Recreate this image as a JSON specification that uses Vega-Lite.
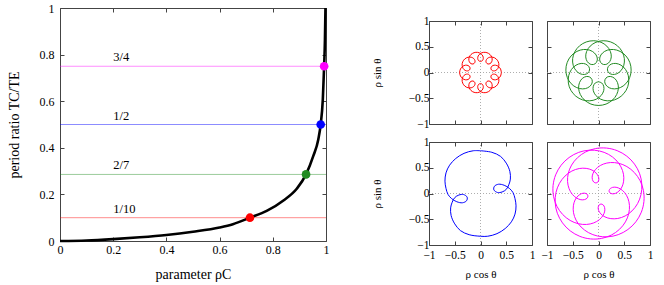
{
  "$schema": "https://vega.github.io/schema/vega-lite/v6.json",
  "padding": {"left": 6, "top": 1, "right": 4, "bottom": 0},
  "config": {
    "font": "Liberation Serif",
    "view": {"stroke": "#444", "strokeWidth": 1},
    "axis": {"domain": false, "grid": false, "tickSize": -4, "tickColor": "#444", "labelFont": "Liberation Serif", "labelFontSize": 12, "labelColor": "#000", "labelFlush": false, "labelOverlap": false, "titleFont": "Liberation Serif", "titleFontSize": 14, "titleFontWeight": "normal", "titleColor": "#000"}
  },
  "datasets": {
    "curve": [
      {"rho": 0, "ratio": 0}, {"rho": 0.1, "ratio": 0.002}, {"rho": 0.2, "ratio": 0.008}, {"rho": 0.3, "ratio": 0.016},
      {"rho": 0.4, "ratio": 0.026}, {"rho": 0.5, "ratio": 0.04}, {"rho": 0.6, "ratio": 0.058}, {"rho": 0.65, "ratio": 0.072},
      {"rho": 0.714, "ratio": 0.1}, {"rho": 0.777, "ratio": 0.129}, {"rho": 0.84, "ratio": 0.174}, {"rho": 0.89, "ratio": 0.224},
      {"rho": 0.925, "ratio": 0.2857}, {"rho": 0.952, "ratio": 0.364}, {"rho": 0.971, "ratio": 0.436}, {"rho": 0.98, "ratio": 0.5},
      {"rho": 0.988, "ratio": 0.607}, {"rho": 0.993, "ratio": 0.75}, {"rho": 0.996, "ratio": 0.864}, {"rho": 0.998, "ratio": 1.0}
    ],
    "res": [
      {"label": "1/10", "ratio": 0.1, "rho": 0.714},
      {"label": "2/7", "ratio": 0.2857, "rho": 0.925},
      {"label": "1/2", "ratio": 0.5, "rho": 0.98},
      {"label": "3/4", "ratio": 0.75, "rho": 0.993}
    ],
    "red": [{"k":0,"x":0.405,"y":0},{"k":1,"x":0.389,"y":0.068},{"k":2,"x":0.347,"y":0.119},{"k":3,"x":0.291,"y":0.142},{"k":4,"x":0.24,"y":0.135},{"k":5,"x":0.208,"y":0.105},{"k":6,"x":0.204,"y":0.066},{"k":7,"x":0.23,"y":0.037},{"k":8,"x":0.273,"y":0.032},{"k":9,"x":0.319,"y":0.056},{"k":10,"x":0.351,"y":0.108},{"k":11,"x":0.355,"y":0.174},{"k":12,"x":0.328,"y":0.238},{"k":13,"x":0.275,"y":0.284},{"k":14,"x":0.211,"y":0.3},{"k":15,"x":0.152,"y":0.286},{"k":16,"x":0.115,"y":0.25},{"k":17,"x":0.106,"y":0.207},{"k":18,"x":0.126,"y":0.174},{"k":19,"x":0.164,"y":0.165},{"k":20,"x":0.203,"y":0.186},{"k":21,"x":0.225,"y":0.233},{"k":22,"x":0.221,"y":0.293},{"k":23,"x":0.185,"y":0.349},{"k":24,"x":0.125,"y":0.385},{"k":25,"x":0.056,"y":0.391},{"k":26,"x":-0.006,"y":0.367},{"k":27,"x":-0.045,"y":0.321},{"k":28,"x":-0.054,"y":0.27},{"k":29,"x":-0.036,"y":0.23},{"k":30,"x":0,"y":0.215},{"k":31,"x":0.036,"y":0.23},{"k":32,"x":0.054,"y":0.27},{"k":33,"x":0.045,"y":0.321},{"k":34,"x":0.006,"y":0.367},{"k":35,"x":-0.056,"y":0.391},{"k":36,"x":-0.125,"y":0.385},{"k":37,"x":-0.185,"y":0.349},{"k":38,"x":-0.221,"y":0.293},{"k":39,"x":-0.225,"y":0.233},{"k":40,"x":-0.203,"y":0.186},{"k":41,"x":-0.164,"y":0.165},{"k":42,"x":-0.126,"y":0.174},{"k":43,"x":-0.106,"y":0.207},{"k":44,"x":-0.115,"y":0.25},{"k":45,"x":-0.152,"y":0.286},{"k":46,"x":-0.211,"y":0.3},{"k":47,"x":-0.275,"y":0.284},{"k":48,"x":-0.328,"y":0.238},{"k":49,"x":-0.355,"y":0.174},{"k":50,"x":-0.351,"y":0.108},{"k":51,"x":-0.319,"y":0.056},{"k":52,"x":-0.273,"y":0.032},{"k":53,"x":-0.23,"y":0.037},{"k":54,"x":-0.204,"y":0.066},{"k":55,"x":-0.208,"y":0.105},{"k":56,"x":-0.24,"y":0.135},{"k":57,"x":-0.291,"y":0.142},{"k":58,"x":-0.347,"y":0.119},{"k":59,"x":-0.389,"y":0.068},{"k":60,"x":-0.405,"y":0},{"k":61,"x":-0.389,"y":-0.068},{"k":62,"x":-0.347,"y":-0.119},{"k":63,"x":-0.291,"y":-0.142},{"k":64,"x":-0.24,"y":-0.135},{"k":65,"x":-0.208,"y":-0.105},{"k":66,"x":-0.204,"y":-0.066},{"k":67,"x":-0.23,"y":-0.037},{"k":68,"x":-0.273,"y":-0.032},{"k":69,"x":-0.319,"y":-0.056},{"k":70,"x":-0.351,"y":-0.108},{"k":71,"x":-0.355,"y":-0.174},{"k":72,"x":-0.328,"y":-0.238},{"k":73,"x":-0.275,"y":-0.284},{"k":74,"x":-0.211,"y":-0.3},{"k":75,"x":-0.152,"y":-0.286},{"k":76,"x":-0.115,"y":-0.25},{"k":77,"x":-0.106,"y":-0.207},{"k":78,"x":-0.126,"y":-0.174},{"k":79,"x":-0.164,"y":-0.165},{"k":80,"x":-0.203,"y":-0.186},{"k":81,"x":-0.225,"y":-0.233},{"k":82,"x":-0.221,"y":-0.293},{"k":83,"x":-0.185,"y":-0.349},{"k":84,"x":-0.125,"y":-0.385},{"k":85,"x":-0.056,"y":-0.391},{"k":86,"x":0.006,"y":-0.367},{"k":87,"x":0.045,"y":-0.321},{"k":88,"x":0.054,"y":-0.27},{"k":89,"x":0.036,"y":-0.23},{"k":90,"x":0,"y":-0.215},{"k":91,"x":-0.036,"y":-0.23},{"k":92,"x":-0.054,"y":-0.27},{"k":93,"x":-0.045,"y":-0.321},{"k":94,"x":-0.006,"y":-0.367},{"k":95,"x":0.056,"y":-0.391},{"k":96,"x":0.125,"y":-0.385},{"k":97,"x":0.185,"y":-0.349},{"k":98,"x":0.221,"y":-0.293},{"k":99,"x":0.225,"y":-0.233},{"k":100,"x":0.203,"y":-0.186},{"k":101,"x":0.164,"y":-0.165},{"k":102,"x":0.126,"y":-0.174},{"k":103,"x":0.106,"y":-0.207},{"k":104,"x":0.115,"y":-0.25},{"k":105,"x":0.152,"y":-0.286},{"k":106,"x":0.211,"y":-0.3},{"k":107,"x":0.275,"y":-0.284},{"k":108,"x":0.328,"y":-0.238},{"k":109,"x":0.355,"y":-0.174},{"k":110,"x":0.351,"y":-0.108},{"k":111,"x":0.319,"y":-0.056},{"k":112,"x":0.273,"y":-0.032},{"k":113,"x":0.23,"y":-0.037},{"k":114,"x":0.204,"y":-0.066},{"k":115,"x":0.208,"y":-0.105},{"k":116,"x":0.24,"y":-0.135},{"k":117,"x":0.291,"y":-0.142},{"k":118,"x":0.347,"y":-0.119},{"k":119,"x":0.389,"y":-0.068},{"k":120,"x":0.405,"y":0}],
    "green": [{"k":0,"x":0,"y":-0.18},{"k":1,"x":-0.062,"y":-0.203},{"k":2,"x":-0.101,"y":-0.266},{"k":3,"x":-0.101,"y":-0.354},{"k":4,"x":-0.052,"y":-0.446},{"k":5,"x":0.042,"y":-0.518},{"k":6,"x":0.17,"y":-0.55},{"k":7,"x":0.31,"y":-0.532},{"k":8,"x":0.44,"y":-0.46},{"k":9,"x":0.537,"y":-0.345},{"k":10,"x":0.585,"y":-0.205},{"k":11,"x":0.579,"y":-0.062},{"k":12,"x":0.525,"y":0.059},{"k":13,"x":0.437,"y":0.142},{"k":14,"x":0.337,"y":0.176},{"k":15,"x":0.247,"y":0.163},{"k":16,"x":0.189,"y":0.114},{"k":17,"x":0.174,"y":0.049},{"k":18,"x":0.204,"y":-0.009},{"k":19,"x":0.27,"y":-0.038},{"k":20,"x":0.355,"y":-0.025},{"k":21,"x":0.436,"y":0.036},{"k":22,"x":0.491,"y":0.139},{"k":23,"x":0.502,"y":0.269},{"k":24,"x":0.46,"y":0.403},{"k":25,"x":0.368,"y":0.518},{"k":26,"x":0.238,"y":0.593},{"k":27,"x":0.091,"y":0.617},{"k":28,"x":-0.05,"y":0.587},{"k":29,"x":-0.162,"y":0.512},{"k":30,"x":-0.23,"y":0.41},{"k":31,"x":-0.248,"y":0.303},{"k":32,"x":-0.22,"y":0.215},{"k":33,"x":-0.163,"y":0.163},{"k":34,"x":-0.096,"y":0.156},{"k":35,"x":-0.042,"y":0.193},{"k":36,"x":-0.022,"y":0.261},{"k":37,"x":-0.047,"y":0.341},{"k":38,"x":-0.119,"y":0.41},{"k":39,"x":-0.227,"y":0.446},{"k":40,"x":-0.355,"y":0.435},{"k":41,"x":-0.479,"y":0.372},{"k":42,"x":-0.576,"y":0.262},{"k":43,"x":-0.628,"y":0.121},{"k":44,"x":-0.626,"y":-0.028},{"k":45,"x":-0.573,"y":-0.163},{"k":46,"x":-0.479,"y":-0.262},{"k":47,"x":-0.365,"y":-0.312},{"k":48,"x":-0.255,"y":-0.313},{"k":49,"x":-0.17,"y":-0.271},{"k":50,"x":-0.125,"y":-0.205},{"k":51,"x":-0.127,"y":-0.137},{"k":52,"x":-0.17,"y":-0.088},{"k":53,"x":-0.238,"y":-0.078},{"k":54,"x":-0.312,"y":-0.113},{"k":55,"x":-0.368,"y":-0.193},{"k":56,"x":-0.386,"y":-0.303},{"k":57,"x":-0.354,"y":-0.426},{"k":58,"x":-0.271,"y":-0.536},{"k":59,"x":-0.147,"y":-0.613},{"k":60,"x":0,"y":-0.64},{"k":61,"x":0.147,"y":-0.613},{"k":62,"x":0.271,"y":-0.536},{"k":63,"x":0.354,"y":-0.426},{"k":64,"x":0.386,"y":-0.303},{"k":65,"x":0.368,"y":-0.193},{"k":66,"x":0.312,"y":-0.113},{"k":67,"x":0.238,"y":-0.078},{"k":68,"x":0.17,"y":-0.088},{"k":69,"x":0.127,"y":-0.137},{"k":70,"x":0.125,"y":-0.205},{"k":71,"x":0.17,"y":-0.271},{"k":72,"x":0.255,"y":-0.313},{"k":73,"x":0.365,"y":-0.312},{"k":74,"x":0.479,"y":-0.262},{"k":75,"x":0.573,"y":-0.163},{"k":76,"x":0.626,"y":-0.028},{"k":77,"x":0.628,"y":0.121},{"k":78,"x":0.576,"y":0.262},{"k":79,"x":0.479,"y":0.372},{"k":80,"x":0.355,"y":0.435},{"k":81,"x":0.227,"y":0.446},{"k":82,"x":0.119,"y":0.41},{"k":83,"x":0.047,"y":0.341},{"k":84,"x":0.022,"y":0.261},{"k":85,"x":0.042,"y":0.193},{"k":86,"x":0.096,"y":0.156},{"k":87,"x":0.163,"y":0.163},{"k":88,"x":0.22,"y":0.215},{"k":89,"x":0.248,"y":0.303},{"k":90,"x":0.23,"y":0.41},{"k":91,"x":0.162,"y":0.512},{"k":92,"x":0.05,"y":0.587},{"k":93,"x":-0.091,"y":0.617},{"k":94,"x":-0.238,"y":0.593},{"k":95,"x":-0.368,"y":0.518},{"k":96,"x":-0.46,"y":0.403},{"k":97,"x":-0.502,"y":0.269},{"k":98,"x":-0.491,"y":0.139},{"k":99,"x":-0.436,"y":0.036},{"k":100,"x":-0.355,"y":-0.025},{"k":101,"x":-0.27,"y":-0.038},{"k":102,"x":-0.204,"y":-0.009},{"k":103,"x":-0.174,"y":0.049},{"k":104,"x":-0.189,"y":0.114},{"k":105,"x":-0.247,"y":0.163},{"k":106,"x":-0.337,"y":0.176},{"k":107,"x":-0.437,"y":0.142},{"k":108,"x":-0.525,"y":0.059},{"k":109,"x":-0.579,"y":-0.062},{"k":110,"x":-0.585,"y":-0.205},{"k":111,"x":-0.537,"y":-0.345},{"k":112,"x":-0.44,"y":-0.46},{"k":113,"x":-0.31,"y":-0.532},{"k":114,"x":-0.17,"y":-0.55},{"k":115,"x":-0.042,"y":-0.518},{"k":116,"x":0.052,"y":-0.446},{"k":117,"x":0.101,"y":-0.354},{"k":118,"x":0.101,"y":-0.266},{"k":119,"x":0.062,"y":-0.203},{"k":120,"x":0,"y":-0.18}],
    "blue": [{"k":0,"x":0,"y":0.83},{"k":1,"x":0.22,"y":0.8},{"k":2,"x":0.39,"y":0.72},{"k":3,"x":0.5,"y":0.59},{"k":4,"x":0.57,"y":0.43},{"k":5,"x":0.58,"y":0.28},{"k":6,"x":0.55,"y":0.17},{"k":7,"x":0.5,"y":0.08},{"k":8,"x":0.42,"y":0.03},{"k":9,"x":0.33,"y":0.02},{"k":10,"x":0.26,"y":0.07},{"k":11,"x":0.27,"y":0.14},{"k":12,"x":0.35,"y":0.18},{"k":13,"x":0.46,"y":0.16},{"k":14,"x":0.56,"y":0.1},{"k":15,"x":0.63,"y":0.02},{"k":16,"x":0.67,"y":-0.1},{"k":17,"x":0.69,"y":-0.24},{"k":18,"x":0.67,"y":-0.4},{"k":19,"x":0.6,"y":-0.55},{"k":20,"x":0.48,"y":-0.68},{"k":21,"x":0.32,"y":-0.78},{"k":22,"x":0.14,"y":-0.83},{"k":23,"x":0,"y":-0.83},{"k":24,"x":-0.22,"y":-0.8},{"k":25,"x":-0.39,"y":-0.72},{"k":26,"x":-0.5,"y":-0.59},{"k":27,"x":-0.57,"y":-0.43},{"k":28,"x":-0.58,"y":-0.28},{"k":29,"x":-0.55,"y":-0.17},{"k":30,"x":-0.5,"y":-0.08},{"k":31,"x":-0.42,"y":-0.03},{"k":32,"x":-0.33,"y":-0.02},{"k":33,"x":-0.26,"y":-0.07},{"k":34,"x":-0.27,"y":-0.14},{"k":35,"x":-0.35,"y":-0.18},{"k":36,"x":-0.46,"y":-0.16},{"k":37,"x":-0.56,"y":-0.1},{"k":38,"x":-0.63,"y":-0.02},{"k":39,"x":-0.67,"y":0.1},{"k":40,"x":-0.69,"y":0.24},{"k":41,"x":-0.67,"y":0.4},{"k":42,"x":-0.6,"y":0.55},{"k":43,"x":-0.48,"y":0.68},{"k":44,"x":-0.32,"y":0.78},{"k":45,"x":-0.14,"y":0.83},{"k":46,"x":0,"y":0.83}],
    "magenta": [{"k":0,"x":0.222,"y":0.091},{"k":1,"x":0.205,"y":0.051},{"k":2,"x":0.221,"y":0.014},{"k":3,"x":0.265,"y":-0.006},{"k":4,"x":0.328,"y":0.002},{"k":5,"x":0.396,"y":0.046},{"k":6,"x":0.455,"y":0.126},{"k":7,"x":0.488,"y":0.239},{"k":8,"x":0.485,"y":0.374},{"k":9,"x":0.436,"y":0.517},{"k":10,"x":0.338,"y":0.651},{"k":11,"x":0.196,"y":0.759},{"k":12,"x":0.018,"y":0.826},{"k":13,"x":-0.181,"y":0.841},{"k":14,"x":-0.384,"y":0.799},{"k":15,"x":-0.571,"y":0.699},{"k":16,"x":-0.725,"y":0.55},{"k":17,"x":-0.832,"y":0.362},{"k":18,"x":-0.882,"y":0.155},{"k":19,"x":-0.873,"y":-0.055},{"k":20,"x":-0.808,"y":-0.248},{"k":21,"x":-0.696,"y":-0.407},{"k":22,"x":-0.551,"y":-0.523},{"k":23,"x":-0.391,"y":-0.587},{"k":24,"x":-0.233,"y":-0.601},{"k":25,"x":-0.093,"y":-0.571},{"k":26,"x":0.017,"y":-0.508},{"k":27,"x":0.088,"y":-0.426},{"k":28,"x":0.121,"y":-0.342},{"k":29,"x":0.118,"y":-0.27},{"k":30,"x":0.091,"y":-0.222},{"k":31,"x":0.051,"y":-0.205},{"k":32,"x":0.014,"y":-0.221},{"k":33,"x":-0.006,"y":-0.265},{"k":34,"x":0.002,"y":-0.328},{"k":35,"x":0.046,"y":-0.396},{"k":36,"x":0.126,"y":-0.455},{"k":37,"x":0.239,"y":-0.488},{"k":38,"x":0.374,"y":-0.485},{"k":39,"x":0.517,"y":-0.436},{"k":40,"x":0.651,"y":-0.338},{"k":41,"x":0.759,"y":-0.196},{"k":42,"x":0.826,"y":-0.018},{"k":43,"x":0.841,"y":0.181},{"k":44,"x":0.799,"y":0.384},{"k":45,"x":0.699,"y":0.571},{"k":46,"x":0.55,"y":0.725},{"k":47,"x":0.362,"y":0.832},{"k":48,"x":0.155,"y":0.882},{"k":49,"x":-0.055,"y":0.873},{"k":50,"x":-0.248,"y":0.808},{"k":51,"x":-0.407,"y":0.696},{"k":52,"x":-0.523,"y":0.551},{"k":53,"x":-0.587,"y":0.391},{"k":54,"x":-0.601,"y":0.233},{"k":55,"x":-0.571,"y":0.093},{"k":56,"x":-0.508,"y":-0.017},{"k":57,"x":-0.426,"y":-0.088},{"k":58,"x":-0.342,"y":-0.121},{"k":59,"x":-0.27,"y":-0.118},{"k":60,"x":-0.222,"y":-0.091},{"k":61,"x":-0.205,"y":-0.051},{"k":62,"x":-0.221,"y":-0.014},{"k":63,"x":-0.265,"y":0.006},{"k":64,"x":-0.328,"y":-0.002},{"k":65,"x":-0.396,"y":-0.046},{"k":66,"x":-0.455,"y":-0.126},{"k":67,"x":-0.488,"y":-0.239},{"k":68,"x":-0.485,"y":-0.374},{"k":69,"x":-0.436,"y":-0.517},{"k":70,"x":-0.338,"y":-0.651},{"k":71,"x":-0.196,"y":-0.759},{"k":72,"x":-0.018,"y":-0.826},{"k":73,"x":0.181,"y":-0.841},{"k":74,"x":0.384,"y":-0.799},{"k":75,"x":0.571,"y":-0.699},{"k":76,"x":0.725,"y":-0.55},{"k":77,"x":0.832,"y":-0.362},{"k":78,"x":0.882,"y":-0.155},{"k":79,"x":0.873,"y":0.055},{"k":80,"x":0.808,"y":0.248},{"k":81,"x":0.696,"y":0.407},{"k":82,"x":0.551,"y":0.523},{"k":83,"x":0.391,"y":0.587},{"k":84,"x":0.233,"y":0.601},{"k":85,"x":0.093,"y":0.571},{"k":86,"x":-0.017,"y":0.508},{"k":87,"x":-0.088,"y":0.426},{"k":88,"x":-0.121,"y":0.342},{"k":89,"x":-0.118,"y":0.27},{"k":90,"x":-0.091,"y":0.222},{"k":91,"x":-0.051,"y":0.205},{"k":92,"x":-0.014,"y":0.221},{"k":93,"x":0.006,"y":0.265},{"k":94,"x":-0.002,"y":0.328},{"k":95,"x":-0.046,"y":0.396},{"k":96,"x":-0.126,"y":0.455},{"k":97,"x":-0.239,"y":0.488},{"k":98,"x":-0.374,"y":0.485},{"k":99,"x":-0.517,"y":0.436},{"k":100,"x":-0.651,"y":0.338},{"k":101,"x":-0.759,"y":0.196},{"k":102,"x":-0.826,"y":0.018},{"k":103,"x":-0.841,"y":-0.181},{"k":104,"x":-0.799,"y":-0.384},{"k":105,"x":-0.699,"y":-0.571},{"k":106,"x":-0.55,"y":-0.725},{"k":107,"x":-0.362,"y":-0.832},{"k":108,"x":-0.155,"y":-0.882},{"k":109,"x":0.055,"y":-0.873},{"k":110,"x":0.248,"y":-0.808},{"k":111,"x":0.407,"y":-0.696},{"k":112,"x":0.523,"y":-0.551},{"k":113,"x":0.587,"y":-0.391},{"k":114,"x":0.601,"y":-0.233},{"k":115,"x":0.571,"y":-0.093},{"k":116,"x":0.508,"y":0.017},{"k":117,"x":0.426,"y":0.088},{"k":118,"x":0.342,"y":0.121},{"k":119,"x":0.27,"y":0.118},{"k":120,"x":0.222,"y":0.091}]
  },
  "hconcat": [
    {
      "width": 266, "height": 233,
      "layer": [
        {"data": {"name": "res"}, "mark": {"type": "rule", "strokeWidth": 1, "opacity": 0.45},
         "encoding": {"y": {"field": "ratio", "type": "quantitative", "scale": {"domain": [0, 1], "nice": false}, "axis": null},
                      "color": {"field": "label", "type": "nominal", "scale": {"domain": ["1/10", "2/7", "1/2", "3/4"], "range": ["#ff0000", "#228b22", "#0000ff", "#ff00ff"]}, "legend": null}}},
        {"data": {"name": "res"}, "mark": {"type": "text", "align": "left", "baseline": "bottom", "dy": -2, "fontSize": 12.5, "color": "#000"},
         "encoding": {"x": {"datum": 0.2, "type": "quantitative", "scale": {"domain": [0, 1], "nice": false}, "axis": null},
                      "y": {"field": "ratio", "type": "quantitative", "axis": null},
                      "text": {"field": "label"}}},
        {"data": {"name": "curve"}, "mark": {"type": "line", "color": "#000", "strokeWidth": 2.6, "interpolate": "monotone"},
         "encoding": {"x": {"field": "rho", "type": "quantitative", "axis": {"orient": "bottom", "values": [0, 0.2, 0.4, 0.6, 0.8, 1], "format": "~g", "title": "parameter ρC", "labelPadding": 7, "titlePadding": 12}},
                      "y": {"field": "ratio", "type": "quantitative", "axis": {"orient": "left", "values": [0, 0.2, 0.4, 0.6, 0.8, 1], "format": "~g", "title": "period ratio TC/TE", "labelPadding": 10, "titlePadding": 18}}}},
        {"data": {"name": "res"}, "mark": {"type": "point", "filled": true, "size": 75, "opacity": 1},
         "encoding": {"x": {"field": "rho", "type": "quantitative", "axis": {"orient": "top", "values": [0, 0.2, 0.4, 0.6, 0.8, 1], "labels": false, "title": null}},
                      "y": {"field": "ratio", "type": "quantitative", "axis": {"orient": "right", "values": [0, 0.2, 0.4, 0.6, 0.8, 1], "labels": false, "title": null}},
                      "color": {"field": "label", "type": "nominal", "legend": null}}}
      ],
      "resolve": {"axis": {"x": "independent", "y": "independent"}}
    },
    {
      "spacing": 4,
      "vconcat": [
        {"width": 103, "height": 1, "data": {"values": []}, "mark": "point", "view": {"stroke": "transparent"}},
        {
          "columns": 2,
          "spacing": {"row": 5, "column": 4},
          "concat": [
            {
              "width": 103, "height": 103,
              "layer": [
                {"data": {"values": [{}]}, "mark": {"type": "rule", "strokeDash": [1, 2], "color": "#999", "strokeWidth": 0.8},
                 "encoding": {"x": {"datum": 0, "type": "quantitative", "scale": {"domain": [-1, 1], "nice": false}, "axis": {"orient": "top", "values": [-1, -0.5, 0, 0.5, 1], "labels": false, "title": null}}}},
                {"data": {"values": [{}]}, "mark": {"type": "rule", "strokeDash": [1, 2], "color": "#999", "strokeWidth": 0.8},
                 "encoding": {"y": {"datum": 0, "type": "quantitative", "scale": {"domain": [-1, 1], "nice": false}, "axis": {"orient": "right", "values": [-1, -0.5, 0, 0.5, 1], "labels": false, "title": null}}}},
                {"data": {"name": "red"}, "mark": {"type": "line", "color": "#ff0000", "strokeWidth": 1, "interpolate": "catmull-rom"},
                 "encoding": {"x": {"field": "x", "type": "quantitative", "axis": {"orient": "bottom", "values": [-1, -0.5, 0, 0.5, 1], "labels": false, "title": null}},
                              "y": {"field": "y", "type": "quantitative", "axis": {"orient": "left", "values": [-1, -0.5, 0, 0.5, 1], "format": "~g", "labelFontSize": 11.5, "title": "ρ sin θ", "titleFontSize": 11, "labelPadding": 4, "titlePadding": 26}},
                              "order": {"field": "k", "type": "quantitative"}}}
              ],
              "resolve": {"axis": {"x": "independent", "y": "independent"}}
            },
            {
              "width": 103, "height": 103,
              "layer": [
                {"data": {"values": [{}]}, "mark": {"type": "rule", "strokeDash": [1, 2], "color": "#999", "strokeWidth": 0.8},
                 "encoding": {"x": {"datum": 0, "type": "quantitative", "scale": {"domain": [-1, 1], "nice": false}, "axis": {"orient": "top", "values": [-1, -0.5, 0, 0.5, 1], "labels": false, "title": null}}}},
                {"data": {"values": [{}]}, "mark": {"type": "rule", "strokeDash": [1, 2], "color": "#999", "strokeWidth": 0.8},
                 "encoding": {"y": {"datum": 0, "type": "quantitative", "scale": {"domain": [-1, 1], "nice": false}, "axis": {"orient": "right", "values": [-1, -0.5, 0, 0.5, 1], "labels": false, "title": null}}}},
                {"data": {"name": "green"}, "mark": {"type": "line", "color": "#228b22", "strokeWidth": 1, "interpolate": "catmull-rom"},
                 "encoding": {"x": {"field": "x", "type": "quantitative", "axis": {"orient": "bottom", "values": [-1, -0.5, 0, 0.5, 1], "labels": false, "title": null}},
                              "y": {"field": "y", "type": "quantitative", "axis": {"orient": "left", "values": [-1, -0.5, 0, 0.5, 1], "labels": false, "title": null}},
                              "order": {"field": "k", "type": "quantitative"}}}
              ],
              "resolve": {"axis": {"x": "independent", "y": "independent"}}
            },
            {
              "width": 103, "height": 103,
              "layer": [
                {"data": {"values": [{}]}, "mark": {"type": "rule", "strokeDash": [1, 2], "color": "#999", "strokeWidth": 0.8},
                 "encoding": {"x": {"datum": 0, "type": "quantitative", "scale": {"domain": [-1, 1], "nice": false}, "axis": {"orient": "top", "values": [-1, -0.5, 0, 0.5, 1], "labels": false, "title": null}}}},
                {"data": {"values": [{}]}, "mark": {"type": "rule", "strokeDash": [1, 2], "color": "#999", "strokeWidth": 0.8},
                 "encoding": {"y": {"datum": 0, "type": "quantitative", "scale": {"domain": [-1, 1], "nice": false}, "axis": {"orient": "right", "values": [-1, -0.5, 0, 0.5, 1], "labels": false, "title": null}}}},
                {"data": {"name": "blue"}, "mark": {"type": "line", "color": "#0000ff", "strokeWidth": 1, "interpolate": "catmull-rom"},
                 "encoding": {"x": {"field": "x", "type": "quantitative", "axis": {"orient": "bottom", "values": [-1, -0.5, 0, 0.5, 1], "format": "~g", "labelFontSize": 11.5, "title": "ρ cos θ", "titleFontSize": 11, "labelPadding": 8, "titlePadding": 8}},
                              "y": {"field": "y", "type": "quantitative", "axis": {"orient": "left", "values": [-1, -0.5, 0, 0.5, 1], "format": "~g", "labelFontSize": 11.5, "title": "ρ sin θ", "titleFontSize": 11, "labelPadding": 4, "titlePadding": 26}},
                              "order": {"field": "k", "type": "quantitative"}}}
              ],
              "resolve": {"axis": {"x": "independent", "y": "independent"}}
            },
            {
              "width": 103, "height": 103,
              "layer": [
                {"data": {"values": [{}]}, "mark": {"type": "rule", "strokeDash": [1, 2], "color": "#999", "strokeWidth": 0.8},
                 "encoding": {"x": {"datum": 0, "type": "quantitative", "scale": {"domain": [-1, 1], "nice": false}, "axis": {"orient": "top", "values": [-1, -0.5, 0, 0.5, 1], "labels": false, "title": null}}}},
                {"data": {"values": [{}]}, "mark": {"type": "rule", "strokeDash": [1, 2], "color": "#999", "strokeWidth": 0.8},
                 "encoding": {"y": {"datum": 0, "type": "quantitative", "scale": {"domain": [-1, 1], "nice": false}, "axis": {"orient": "right", "values": [-1, -0.5, 0, 0.5, 1], "labels": false, "title": null}}}},
                {"data": {"name": "magenta"}, "mark": {"type": "line", "color": "#ff00ff", "strokeWidth": 1, "interpolate": "catmull-rom"},
                 "encoding": {"x": {"field": "x", "type": "quantitative", "axis": {"orient": "bottom", "values": [-1, -0.5, 0, 0.5, 1], "format": "~g", "labelFontSize": 11.5, "title": "ρ cos θ", "titleFontSize": 11, "labelPadding": 8, "titlePadding": 8}},
                              "y": {"field": "y", "type": "quantitative", "axis": {"orient": "left", "values": [-1, -0.5, 0, 0.5, 1], "labels": false, "title": null}},
                              "order": {"field": "k", "type": "quantitative"}}}
              ],
              "resolve": {"axis": {"x": "independent", "y": "independent"}}
            }
          ]
        }
      ]
    }
  ],
  "spacing": 38
}
